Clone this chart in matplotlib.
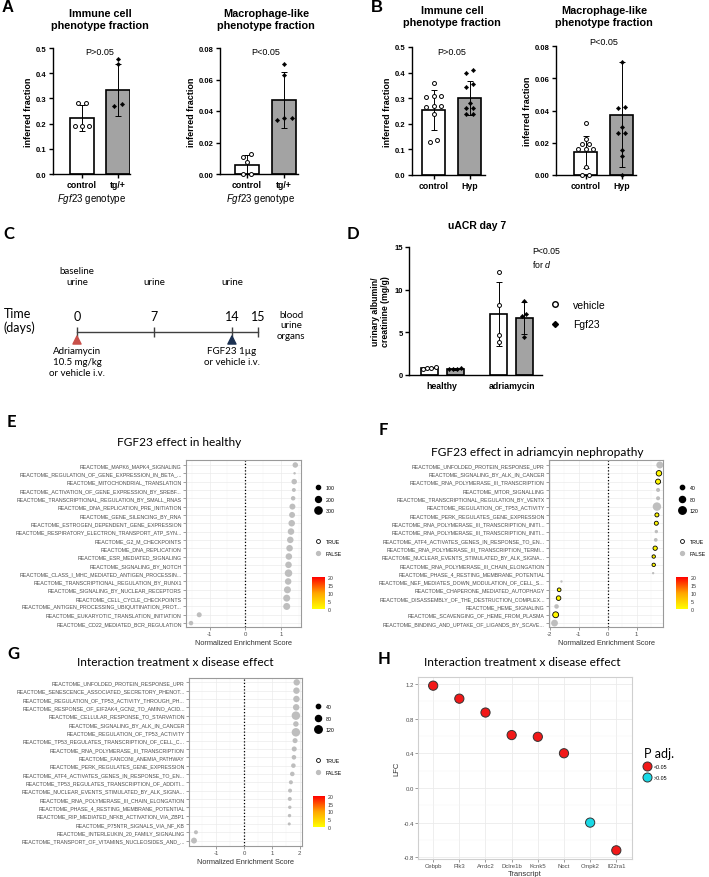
import numpy as np
import matplotlib
matplotlib.use('Agg')
import matplotlib as mpl
import matplotlib.pyplot as plt
from matplotlib.colors import LinearSegmentedColormap, Normalize
from matplotlib.lines import Line2D
from matplotlib.ticker import MultipleLocator

W, H = 709, 878

# ---------------- A: Fgf23 genotype ----------------
a_groups = ['control', 'tg/+']
a_imm_mean = [0.222, 0.334]
a_imm_sd = [0.052, 0.102]
a_imm_ctrl = [0.28, 0.28, 0.19, 0.19, 0.19]
a_imm_tg = [0.455, 0.437, 0.268, 0.278]
a_mac_mean = [0.0055, 0.047]
a_mac_sd = [0.0065, 0.018]
a_mac_ctrl = [0.013, 0.011, 0.0075, 0.0, 0.0]
a_mac_tg = [0.070, 0.063, 0.034, 0.0355, 0.0355]

# ---------------- B: Hyp ----------------
b_groups = ['control', 'Hyp']
b_imm_mean = [0.255, 0.301]
b_imm_sd = [0.078, 0.065]
b_imm_ctrl = [0.36, 0.31, 0.31, 0.305, 0.27, 0.27, 0.265, 0.24, 0.13, 0.135]
b_imm_hyp = [0.41, 0.40, 0.345, 0.355, 0.28, 0.26, 0.26, 0.24, 0.24]
b_mac_mean = [0.0143, 0.0375]
b_mac_sd = [0.0100, 0.0325]
b_mac_ctrl = [0.032, 0.0225, 0.0195, 0.0195, 0.016, 0.016, 0.016, 0.005, 0.0, 0.0]
b_mac_hyp = [0.070, 0.042, 0.0415, 0.030, 0.026, 0.026, 0.0155, 0.012, 0.0]

# ---------------- C: timeline ----------------
c_days = [0, 7, 14, 15]
c_urine_days = [0, 7, 14]
c_urine_labels = ['baseline\nurine', 'urine', 'urine']
c_inject_days = [0, 14]
c_inject_labels = ['Adriamycin\n10.5 mg/kg\nor vehicle i.v.', 'FGF23 1µg\nor vehicle i.v.']
c_inject_colors = ['#c9504a', '#1c3152']

# ---------------- D: uACR ----------------
d_groups = ['healthy', 'adriamycin']
d_veh_mean = [0.8, 7.2]
d_veh_sd = [0.1, 3.75]
d_fgf_mean = [0.72, 6.7]
d_fgf_sd = [0.1, 1.85]
d_veh_pts = [[0.9, 0.8, 0.8, 0.7], [12.1, 8.2, 4.7, 3.9]]
d_fgf_pts = [[0.85, 0.7, 0.7, 0.65], [8.7, 7.2, 6.9, 4.4]]

# ---------------- E: GSEA healthy ----------------
e_terms = ['REACTOME_MAPK6_MAPK4_SIGNALING',
           'REACTOME_REGULATION_OF_GENE_EXPRESSION_IN_BETA_...',
           'REACTOME_MITOCHONDRIAL_TRANSLATION',
           'REACTOME_ACTIVATION_OF_GENE_EXPRESSION_BY_SREBF...',
           'REACTOME_TRANSCRIPTIONAL_REGULATION_BY_SMALL_RNAS',
           'REACTOME_DNA_REPLICATION_PRE_INITIATION',
           'REACTOME_GENE_SILENCING_BY_RNA',
           'REACTOME_ESTROGEN_DEPENDENT_GENE_EXPRESSION',
           'REACTOME_RESPIRATORY_ELECTRON_TRANSPORT_ATP_SYN...',
           'REACTOME_G2_M_CHECKPOINTS',
           'REACTOME_DNA_REPLICATION',
           'REACTOME_ESR_MEDIATED_SIGNALING',
           'REACTOME_SIGNALING_BY_NOTCH',
           'REACTOME_CLASS_I_MHC_MEDIATED_ANTIGEN_PROCESSIN...',
           'REACTOME_TRANSCRIPTIONAL_REGULATION_BY_RUNX1',
           'REACTOME_SIGNALING_BY_NUCLEAR_RECEPTORS',
           'REACTOME_CELL_CYCLE_CHECKPOINTS',
           'REACTOME_ANTIGEN_PROCESSING_UBIQUITINATION_PROT...',
           'REACTOME_EUKARYOTIC_TRANSLATION_INITIATION',
           'REACTOME_CD22_MEDIATED_BCR_REGULATION']
e_nes = [1.40, 1.38, 1.37, 1.36, 1.34, 1.32, 1.31, 1.30, 1.28, 1.26,
         1.24, 1.22, 1.21, 1.21, 1.20, 1.18, 1.16, 1.16, -1.29, -1.52]
e_size = [175, 35, 175, 90, 115, 205, 205, 245, 245, 245,
          245, 245, 245, 325, 245, 280, 280, 280, 145, 115]
e_sig = [False] * 20
e_col = [np.nan] * 20

# ---------------- F: GSEA adriamycin ----------------
f_terms = ['REACTOME_UNFOLDED_PROTEIN_RESPONSE_UPR',
           'REACTOME_SIGNALING_BY_ALK_IN_CANCER',
           'REACTOME_RNA_POLYMERASE_III_TRANSCRIPTION',
           'REACTOME_MTOR_SIGNALLING',
           'REACTOME_TRANSCRIPTIONAL_REGULATION_BY_VENTX',
           'REACTOME_REGULATION_OF_TP53_ACTIVITY',
           'REACTOME_PERK_REGULATES_GENE_EXPRESSION',
           'REACTOME_RNA_POLYMERASE_III_TRANSCRIPTION_INITI...',
           'REACTOME_RNA_POLYMERASE_III_TRANSCRIPTION_INITI...',
           'REACTOME_ATF4_ACTIVATES_GENES_IN_RESPONSE_TO_EN...',
           'REACTOME_RNA_POLYMERASE_III_TRANSCRIPTION_TERMI...',
           'REACTOME_NUCLEAR_EVENTS_STIMULATED_BY_ALK_SIGNA...',
           'REACTOME_RNA_POLYMERASE_III_CHAIN_ELONGATION',
           'REACTOME_PHASE_4_RESTING_MEMBRANE_POTENTIAL',
           'REACTOME_NEF_MEDIATES_DOWN_MODULATION_OF_CELL_S...',
           'REACTOME_CHAPERONE_MEDIATED_AUTOPHAGY',
           'REACTOME_DISASSEMBLY_OF_THE_DESTRUCTION_COMPLEX...',
           'REACTOME_HEME_SIGNALING',
           'REACTOME_SCAVENGING_OF_HEME_FROM_PLASMA',
           'REACTOME_BINDING_AND_UPTAKE_OF_LIGANDS_BY_SCAVE...']
f_nes = [1.80, 1.77, 1.74, 1.74, 1.74, 1.70, 1.70, 1.68, 1.68, 1.66,
         1.64, 1.59, 1.59, 1.57, -1.59, -1.67, -1.69, -1.76, -1.79, -1.83]
f_size = [105, 65, 55, 35, 35, 155, 35, 35, 25, 30,
          40, 25, 25, 12, 12, 30, 45, 45, 75, 100]
f_sig = [False, True, True, False, False, False, True, True, False, False,
         True, True, True, False, False, True, True, False, True, False]
f_col = [np.nan, 1.0, 1.0, np.nan, np.nan, np.nan, 1.0, 1.0, np.nan, np.nan,
         1.0, 1.5, 1.0, np.nan, np.nan, 1.0, 1.0, np.nan, 1.0, np.nan]

# ---------------- G: GSEA interaction ----------------
g_terms = ['REACTOME_UNFOLDED_PROTEIN_RESPONSE_UPR',
           'REACTOME_SENESCENCE_ASSOCIATED_SECRETORY_PHENOT...',
           'REACTOME_REGULATION_OF_TP53_ACTIVITY_THROUGH_PH...',
           'REACTOME_RESPONSE_OF_EIF2AK4_GCN2_TO_AMINO_ACID...',
           'REACTOME_CELLULAR_RESPONSE_TO_STARVATION',
           'REACTOME_SIGNALING_BY_ALK_IN_CANCER',
           'REACTOME_REGULATION_OF_TP53_ACTIVITY',
           'REACTOME_TP53_REGULATES_TRANSCRIPTION_OF_CELL_C...',
           'REACTOME_RNA_POLYMERASE_III_TRANSCRIPTION',
           'REACTOME_FANCONI_ANEMIA_PATHWAY',
           'REACTOME_PERK_REGULATES_GENE_EXPRESSION',
           'REACTOME_ATF4_ACTIVATES_GENES_IN_RESPONSE_TO_EN...',
           'REACTOME_TP53_REGULATES_TRANSCRIPTION_OF_ADDITI...',
           'REACTOME_NUCLEAR_EVENTS_STIMULATED_BY_ALK_SIGNA...',
           'REACTOME_RNA_POLYMERASE_III_CHAIN_ELONGATION',
           'REACTOME_PHASE_4_RESTING_MEMBRANE_POTENTIAL',
           'REACTOME_RIP_MEDIATED_NFKB_ACTIVATION_VIA_ZBP1',
           'REACTOME_P75NTR_SIGNALS_VIA_NF_KB',
           'REACTOME_INTERLEUKIN_20_FAMILY_SIGNALING',
           'REACTOME_TRANSPORT_OF_VITAMINS_NUCLEOSIDES_AND_...']
g_nes = [1.90, 1.89, 1.89, 1.88, 1.87, 1.87, 1.87, 1.84, 1.81, 1.80,
         1.78, 1.74, 1.69, 1.66, 1.65, 1.65, 1.64, 1.63, -1.73, -1.80]
g_size = [90, 90, 90, 90, 155, 65, 155, 55, 55, 45,
          45, 45, 35, 35, 35, 25, 25, 20, 35, 75]
g_sig = [False] * 20
g_col = [np.nan] * 20

# ---------------- H: transcripts ----------------
h_genes = ['Cebpb', 'Plk3', 'Arrdc2', 'Dclre1b', 'Kcnk5', 'Noct', 'Cmpk2', 'Il22ra1']
h_lfc = [1.18, 1.03, 0.87, 0.61, 0.59, 0.40, -0.40, -0.72]
h_sig = [True, True, True, True, True, True, False, True]

# ---------------------------------------------------------------
plt.rcParams['font.family'] = ['Liberation Sans', 'DejaVu Sans']
plt.rcParams['mathtext.fontset'] = 'custom'
plt.rcParams['mathtext.it'] = 'Liberation Sans:italic'
plt.rcParams['mathtext.rm'] = 'Liberation Sans'
CAL = ['Lato', 'DejaVu Sans']

fig = plt.figure(figsize=(W / 100, H / 100), dpi=100)


def px_axes(left, top, width, height):
    return fig.add_axes([left / W, 1 - (top + height) / H, width / W, height / H])


def fig_xy(x, y):
    return x / W, 1 - y / H


def ftext(x, y, s, **kw):
    fig.text(x / W, 1 - y / H, s, **kw)


def spread(vals, tol, step):
    vals = np.asarray(vals, dtype=float)
    offs = np.zeros(len(vals))
    clusters = []
    for idx in np.argsort(vals):
        if clusters and vals[idx] - vals[clusters[-1][-1]] <= tol:
            clusters[-1].append(idx)
        else:
            clusters.append([idx])
    for c in clusters:
        offs[c] = (np.arange(len(c)) - (len(c) - 1) / 2) * step
    return offs


def draw_points(ax, x0, pts, is_open, tol, step):
    offs = spread(pts, tol, step)
    if is_open:
        ax.scatter(x0 + offs, pts, s=8, facecolor='white', edgecolor='black',
                   linewidth=0.7, zorder=4, clip_on=False)
    else:
        ax.scatter(x0 + offs, pts, s=5, marker='D', facecolor='black',
                   edgecolor='black', linewidth=0.3, zorder=4, clip_on=False)


def prism_axes(ax, ymax, yticks, fmt):
    for s in ['top', 'right']:
        ax.spines[s].set_visible(False)
    ax.spines['left'].set_linewidth(1.0)
    ax.spines['bottom'].set_linewidth(1.0)
    ax.set_ylim(0, ymax)
    ax.set_yticks(yticks)
    ax.set_yticklabels([fmt.format(t) for t in yticks], fontsize=5.5, fontweight='bold')
    ax.tick_params(axis='both', length=3, width=1.0, pad=1.5)


def fraction_panel(ax, cats, means, sds, ctrl, trt, ymax, yticks, fmt, ptext, py, xlim):
    x = np.arange(len(cats))
    ax.bar(x, means, width=0.65, color=['white', '#a3a3a3'], edgecolor='black',
           linewidth=1.2, zorder=2)
    ax.errorbar(x, means, yerr=sds, fmt='none', ecolor='black', elinewidth=0.7,
                capsize=2.5, capthick=0.7, zorder=3)
    tol = ymax * 0.03
    draw_points(ax, 0, ctrl, True, tol, 0.2)
    draw_points(ax, 1, trt, False, tol, 0.2)
    prism_axes(ax, ymax, yticks, fmt)
    ax.set_xlim(*xlim)
    ax.set_xticks(x)
    ax.set_xticklabels(cats, fontsize=6.3, fontweight='bold')
    ax.set_ylabel('inferred fraction', fontsize=6.5, fontweight='bold', labelpad=2)
    ax.text(0.5, py, ptext, ha='center', va='center', fontsize=6.5, clip_on=False)


# ---------------- panel A ----------------
ax = px_axes(53, 49, 77, 126)
fraction_panel(ax, a_groups, a_imm_mean, a_imm_sd, a_imm_ctrl, a_imm_tg, 0.5,
               [0, 0.1, 0.2, 0.3, 0.4, 0.5], '{:.1f}', 'P>0.05', 0.488, (-0.8, 1.33))
ax = px_axes(220, 49, 78, 126)
fraction_panel(ax, a_groups, a_mac_mean, a_mac_sd, a_mac_ctrl, a_mac_tg, 0.08,
               [0, 0.02, 0.04, 0.06, 0.08], '{:.2f}', 'P<0.05', 0.078, (-0.72, 1.37))
ftext(100, 20, 'Immune cell\nphenotype fraction', ha='center', va='center',
      fontsize=7.8, fontweight='bold', linespacing=1.3)
ftext(266, 20, 'Macrophage-like\nphenotype fraction', ha='center', va='center',
      fontsize=7.8, fontweight='bold', linespacing=1.3)
ftext(92, 199, r'$\it{Fgf23}$ genotype', ha='center', va='center', fontsize=7)
ftext(261, 199, r'$\it{Fgf23}$ genotype', ha='center', va='center', fontsize=7)

# ---------------- panel B ----------------
ax = px_axes(412, 48, 73, 128)
fraction_panel(ax, b_groups, b_imm_mean, b_imm_sd, b_imm_ctrl, b_imm_hyp, 0.5,
               [0, 0.1, 0.2, 0.3, 0.4, 0.5], '{:.1f}', 'P>0.05', 0.484, (-0.6, 1.43))
ax = px_axes(556, 47, 80, 129)
fraction_panel(ax, b_groups, b_mac_mean, b_mac_sd, b_mac_ctrl, b_mac_hyp, 0.08,
               [0, 0.02, 0.04, 0.06, 0.08], '{:.2f}', 'P<0.05', 0.0825, (-0.82, 1.4))
ftext(452, 17, 'Immune cell\nphenotype fraction', ha='center', va='center',
      fontsize=7.8, fontweight='bold', linespacing=1.3)
ftext(604, 17, 'Macrophage-like\nphenotype fraction', ha='center', va='center',
      fontsize=7.8, fontweight='bold', linespacing=1.3)

# ---------------- panel C ----------------
ax_c = px_axes(0, 220, 350, 170)
ax_c.axis('off')
stretch = 2.35
ax_c.set_xscale('function', functions=(
    lambda d: np.where(np.asarray(d) > 14, 14 + stretch * (np.asarray(d) - 14), d),
    lambda u: np.where(np.asarray(u) > 14, 14 + (np.asarray(u) - 14) / stretch, u)))
ax_c.set_xlim(-6.96, 18.54)
ax_c.set_ylim(390, 220)
ax_c.plot([c_days[0], c_days[-1]], [333, 333], color='#404040', lw=1)
ax_c.vlines(c_days, 328, 338, color='#404040', lw=1)
for d in c_days:
    ax_c.text(d, 317, str(d), ha='center', va='center', fontsize=9, family=CAL)
for d, lab in zip(c_urine_days, c_urine_labels):
    ax_c.text(d, 287, lab, ha='center', va='bottom', fontsize=7, family=CAL,
              linespacing=1.25)
ax_c.scatter(c_inject_days, [341] * len(c_inject_days), marker='^', s=34,
             c=c_inject_colors, zorder=3)
for d, lab in zip(c_inject_days, c_inject_labels):
    ax_c.text(d, 347, lab, ha='center', va='top', fontsize=7, family=CAL,
              linespacing=1.25)
ftext(4, 321, 'Time\n(days)', ha='left', va='center', fontsize=9, family=CAL,
      linespacing=1.2)
ftext(291, 326, 'blood\nurine\norgans', ha='center', va='center', fontsize=7,
      family=CAL, linespacing=1.25)

# ---------------- panel D ----------------
ax_d = px_axes(409, 248, 133, 128)
xg = np.arange(len(d_groups))
off, bw = 0.186, 0.245
ax_d.bar(xg - off, d_veh_mean, width=bw, color='white', edgecolor='black', lw=1.2, zorder=2)
ax_d.bar(xg + off, d_fgf_mean, width=bw, color='#a3a3a3', edgecolor='black', lw=1.2, zorder=2)
ax_d.errorbar(xg - off, d_veh_mean, yerr=d_veh_sd, fmt='none', ecolor='black',
              elinewidth=0.7, capsize=2.5, capthick=0.7, zorder=3)
ax_d.errorbar(xg + off, d_fgf_mean, yerr=d_fgf_sd, fmt='none', ecolor='black',
              elinewidth=0.7, capsize=2.5, capthick=0.7, zorder=3)
for i in range(len(d_groups)):
    draw_points(ax_d, xg[i] - off, d_veh_pts[i], True, 0.45, 0.06)
    draw_points(ax_d, xg[i] + off, d_fgf_pts[i], False, 0.45, 0.06)
prism_axes(ax_d, 15, [0, 5, 10, 15], '{:d}')
ax_d.set_xlim(-0.48, 1.44)
ax_d.set_xticks(xg)
ax_d.set_xticklabels(d_groups, fontsize=6.3, fontweight='bold')
ax_d.tick_params(axis='x', length=0, pad=4)
ax_d.set_ylabel('urinary albumin/\ncreatinine (mg/g)', fontsize=6.3,
                fontweight='bold', labelpad=3, linespacing=1.1)
ax_d.legend([Line2D([], [], marker='o', ls='', mfc='white', mec='black', ms=4, mew=1),
             Line2D([], [], marker='D', ls='', color='black', ms=3)],
            ['vehicle', 'Fgf23'], loc='upper left', bbox_to_anchor=fig_xy(550, 301),
            bbox_transform=fig.transFigure, frameon=False, fontsize=7.5,
            handlelength=1.0, handletextpad=1.2, labelspacing=0.9,
            borderpad=0, borderaxespad=0)
ftext(477, 226, 'uACR day 7', ha='center', va='center', fontsize=7.5, fontweight='bold')
ftext(532, 247, 'P<0.05\nfor $\\it{d}$', ha='left', va='top', fontsize=6.3,
      linespacing=1.3)

# ---------------- GSEA panels ----------------
gsea_cmap = LinearSegmentedColormap.from_list('padj', ['#ffff00', '#ffa500', '#ff0000'])


def gsea_panel(box, terms, nes, sizes, sig, colv, k, xlim, ylim, xticks,
               size_leg, leg_xy, cbar_box, title, title_xy):
    ax = px_axes(*box)
    y = np.arange(len(terms))
    nes = np.asarray(nes, float)
    sizes = np.asarray(sizes, float)
    sig = np.asarray(sig, bool)
    colv = np.asarray(colv, float)
    ax.scatter(nes[~sig], y[~sig], s=sizes[~sig] * k, color='#bebebe',
               linewidth=0, zorder=3)
    if sig.any():
        ax.scatter(nes[sig], y[sig], s=sizes[sig] * k, c=colv[sig], cmap=gsea_cmap,
                   vmin=0, vmax=20, edgecolor='black', linewidth=0.6, zorder=4)
    ax.axvline(0, color='black', linestyle=(0, (1, 1.6)), linewidth=0.9, zorder=2)
    ax.set_xlim(*xlim)
    ax.set_ylim(*ylim)
    ax.set_yticks(y)
    ax.set_yticklabels(terms, fontsize=3.8, color='#4d4d4d')
    ax.set_xticks(xticks)
    ax.set_xticklabels([str(t) for t in xticks], fontsize=4.3, color='#4d4d4d')
    ax.xaxis.set_minor_locator(MultipleLocator(0.5))
    ax.set_axisbelow(True)
    ax.grid(True, which='major', color='#ebebeb', linewidth=0.5)
    ax.grid(True, which='minor', axis='x', color='#f3f3f3', linewidth=0.3)
    ax.tick_params(length=2, width=0.4, color='#555555', pad=1)
    ax.tick_params(which='minor', length=0)
    for s in ax.spines.values():
        s.set_color('#9a9a9a')
        s.set_linewidth(0.8)
    ax.set_xlabel('Normalized Enrichment Score', fontsize=5.3, color='#333333', labelpad=2)
    lx, ly = leg_xy
    handles = [Line2D([], [], marker='o', ls='', color='black', ms=np.sqrt(v * k))
               for v in size_leg]
    leg1 = ax.legend(handles, [str(v) for v in size_leg], loc='upper left',
                     bbox_to_anchor=fig_xy(lx, ly), bbox_transform=fig.transFigure,
                     frameon=False, fontsize=3.8, handlelength=1.2, handletextpad=0.8,
                     labelspacing=1.26, borderpad=0, borderaxespad=0)
    ax.add_artist(leg1)
    tf = [Line2D([], [], marker='o', ls='', mfc='none', mec='black', ms=2.8, mew=0.6),
          Line2D([], [], marker='o', ls='', color='#bebebe', ms=2.8)]
    ax.legend(tf, ['TRUE', 'FALSE'], loc='upper left', bbox_to_anchor=fig_xy(lx, ly + 54),
              bbox_transform=fig.transFigure, frameon=False, fontsize=3.8,
              handlelength=1.2, handletextpad=0.8, labelspacing=1.26,
              borderpad=0, borderaxespad=0)
    cax = px_axes(*cbar_box)
    cb = mpl.colorbar.ColorbarBase(cax, cmap=gsea_cmap, norm=Normalize(0, 20),
                                   ticks=[0, 5, 10, 15, 20])
    cb.outline.set_visible(False)
    cax.tick_params(labelsize=3.8, length=0, pad=2, labelcolor='#333333')
    ftext(title_xy[0], title_xy[1], title, ha='center', va='center', fontsize=8.6,
          family=CAL)
    return ax


gsea_panel((186, 461, 115, 167), e_terms, e_nes, e_size, e_sig, e_col, 0.09,
           (-1.66, 1.56), (19.47, -0.6), [-1, 0, 1], [100, 200, 300], (315, 486),
           (312, 578, 13, 32), 'FGF23 effect in healthy', (179, 442))
gsea_panel((549, 461, 114, 167), f_terms, f_nes, f_size, f_sig, f_col, 0.24,
           (-2.02, 1.91), (19.47, -0.6), [-2, -1, 0, 1], [40, 80, 120], (679, 486),
           (676, 578, 12, 32), 'FGF23 effect in adriamcyin nephropathy', (537, 452))
gsea_panel((189, 679, 113, 168), g_terms, g_nes, g_size, g_sig, g_col, 0.24,
           (-1.98, 2.09), (19.65, -0.52), [-1, 0, 1, 2], [40, 80, 120], (315, 705),
           (313, 797, 12, 31), 'Interaction treatment x disease effect', (175, 662))

# ---------------- panel H ----------------
ax_h = px_axes(418, 678, 214, 182)
xh = np.arange(len(h_genes))
h_colors = np.where(np.asarray(h_sig), '#f21818', '#19d9e6')
ax_h.scatter(xh, h_lfc, s=44, c=h_colors, edgecolor='#333333', linewidth=0.7, zorder=3)
ax_h.set_xlim(-0.58, 7.6)
ax_h.set_ylim(-0.82, 1.28)
hy = [-0.8, -0.4, 0.0, 0.4, 0.8, 1.2]
ax_h.set_yticks(hy)
ax_h.set_yticklabels(['{:.1f}'.format(v) for v in hy], fontsize=4.3, color='#4d4d4d')
ax_h.yaxis.set_minor_locator(MultipleLocator(0.2))
ax_h.set_xticks(xh)
ax_h.set_xticklabels(h_genes, fontsize=4.3, color='#4d4d4d')
ax_h.set_axisbelow(True)
ax_h.grid(True, which='major', color='#ebebeb', linewidth=0.6)
ax_h.grid(True, which='minor', axis='y', color='#f3f3f3', linewidth=0.35)
ax_h.tick_params(length=2, width=0.4, color='#555555', pad=1)
ax_h.tick_params(which='minor', length=0)
for s in ax_h.spines.values():
    s.set_color('#cfcfcf')
    s.set_linewidth(0.8)
ax_h.set_xlabel('Transcript', fontsize=5.5, color='#333333', labelpad=1)
ax_h.set_ylabel('LFC', fontsize=5.5, color='#333333', labelpad=2)
ax_h.legend([Line2D([], [], marker='o', ls='', mfc='#f21818', mec='#333333', ms=6.5, mew=0.7),
             Line2D([], [], marker='o', ls='', mfc='#19d9e6', mec='#333333', ms=6.5, mew=0.7)],
            ['<0.05', '>0.05'], title='P adj.', title_fontproperties={'family': CAL, 'size': 9},
            alignment='left', loc='upper left', bbox_to_anchor=fig_xy(644, 748),
            bbox_transform=fig.transFigure, frameon=False, fontsize=3.8,
            handlelength=1.0, handletextpad=0.8, labelspacing=1.0,
            borderpad=0, borderaxespad=0)
ftext(522, 662, 'Interaction treatment x disease effect', ha='center', va='center',
      fontsize=8.6, family=CAL)

# ---------------- panel letters ----------------
ftext(2, 8, 'A', ha='left', va='center', fontsize=12, fontweight='bold')
ftext(371, 8, 'B', ha='left', va='center', fontsize=12, fontweight='bold')
for lab, x, y in [('C', 3, 234), ('D', 347, 234), ('E', 7, 422), ('F', 379, 430),
                  ('G', 7, 654), ('H', 378, 659)]:
    ftext(x, y, lab, ha='left', va='center', fontsize=12, fontweight='bold', family=CAL)

fig.savefig('out.png', dpi=100)
